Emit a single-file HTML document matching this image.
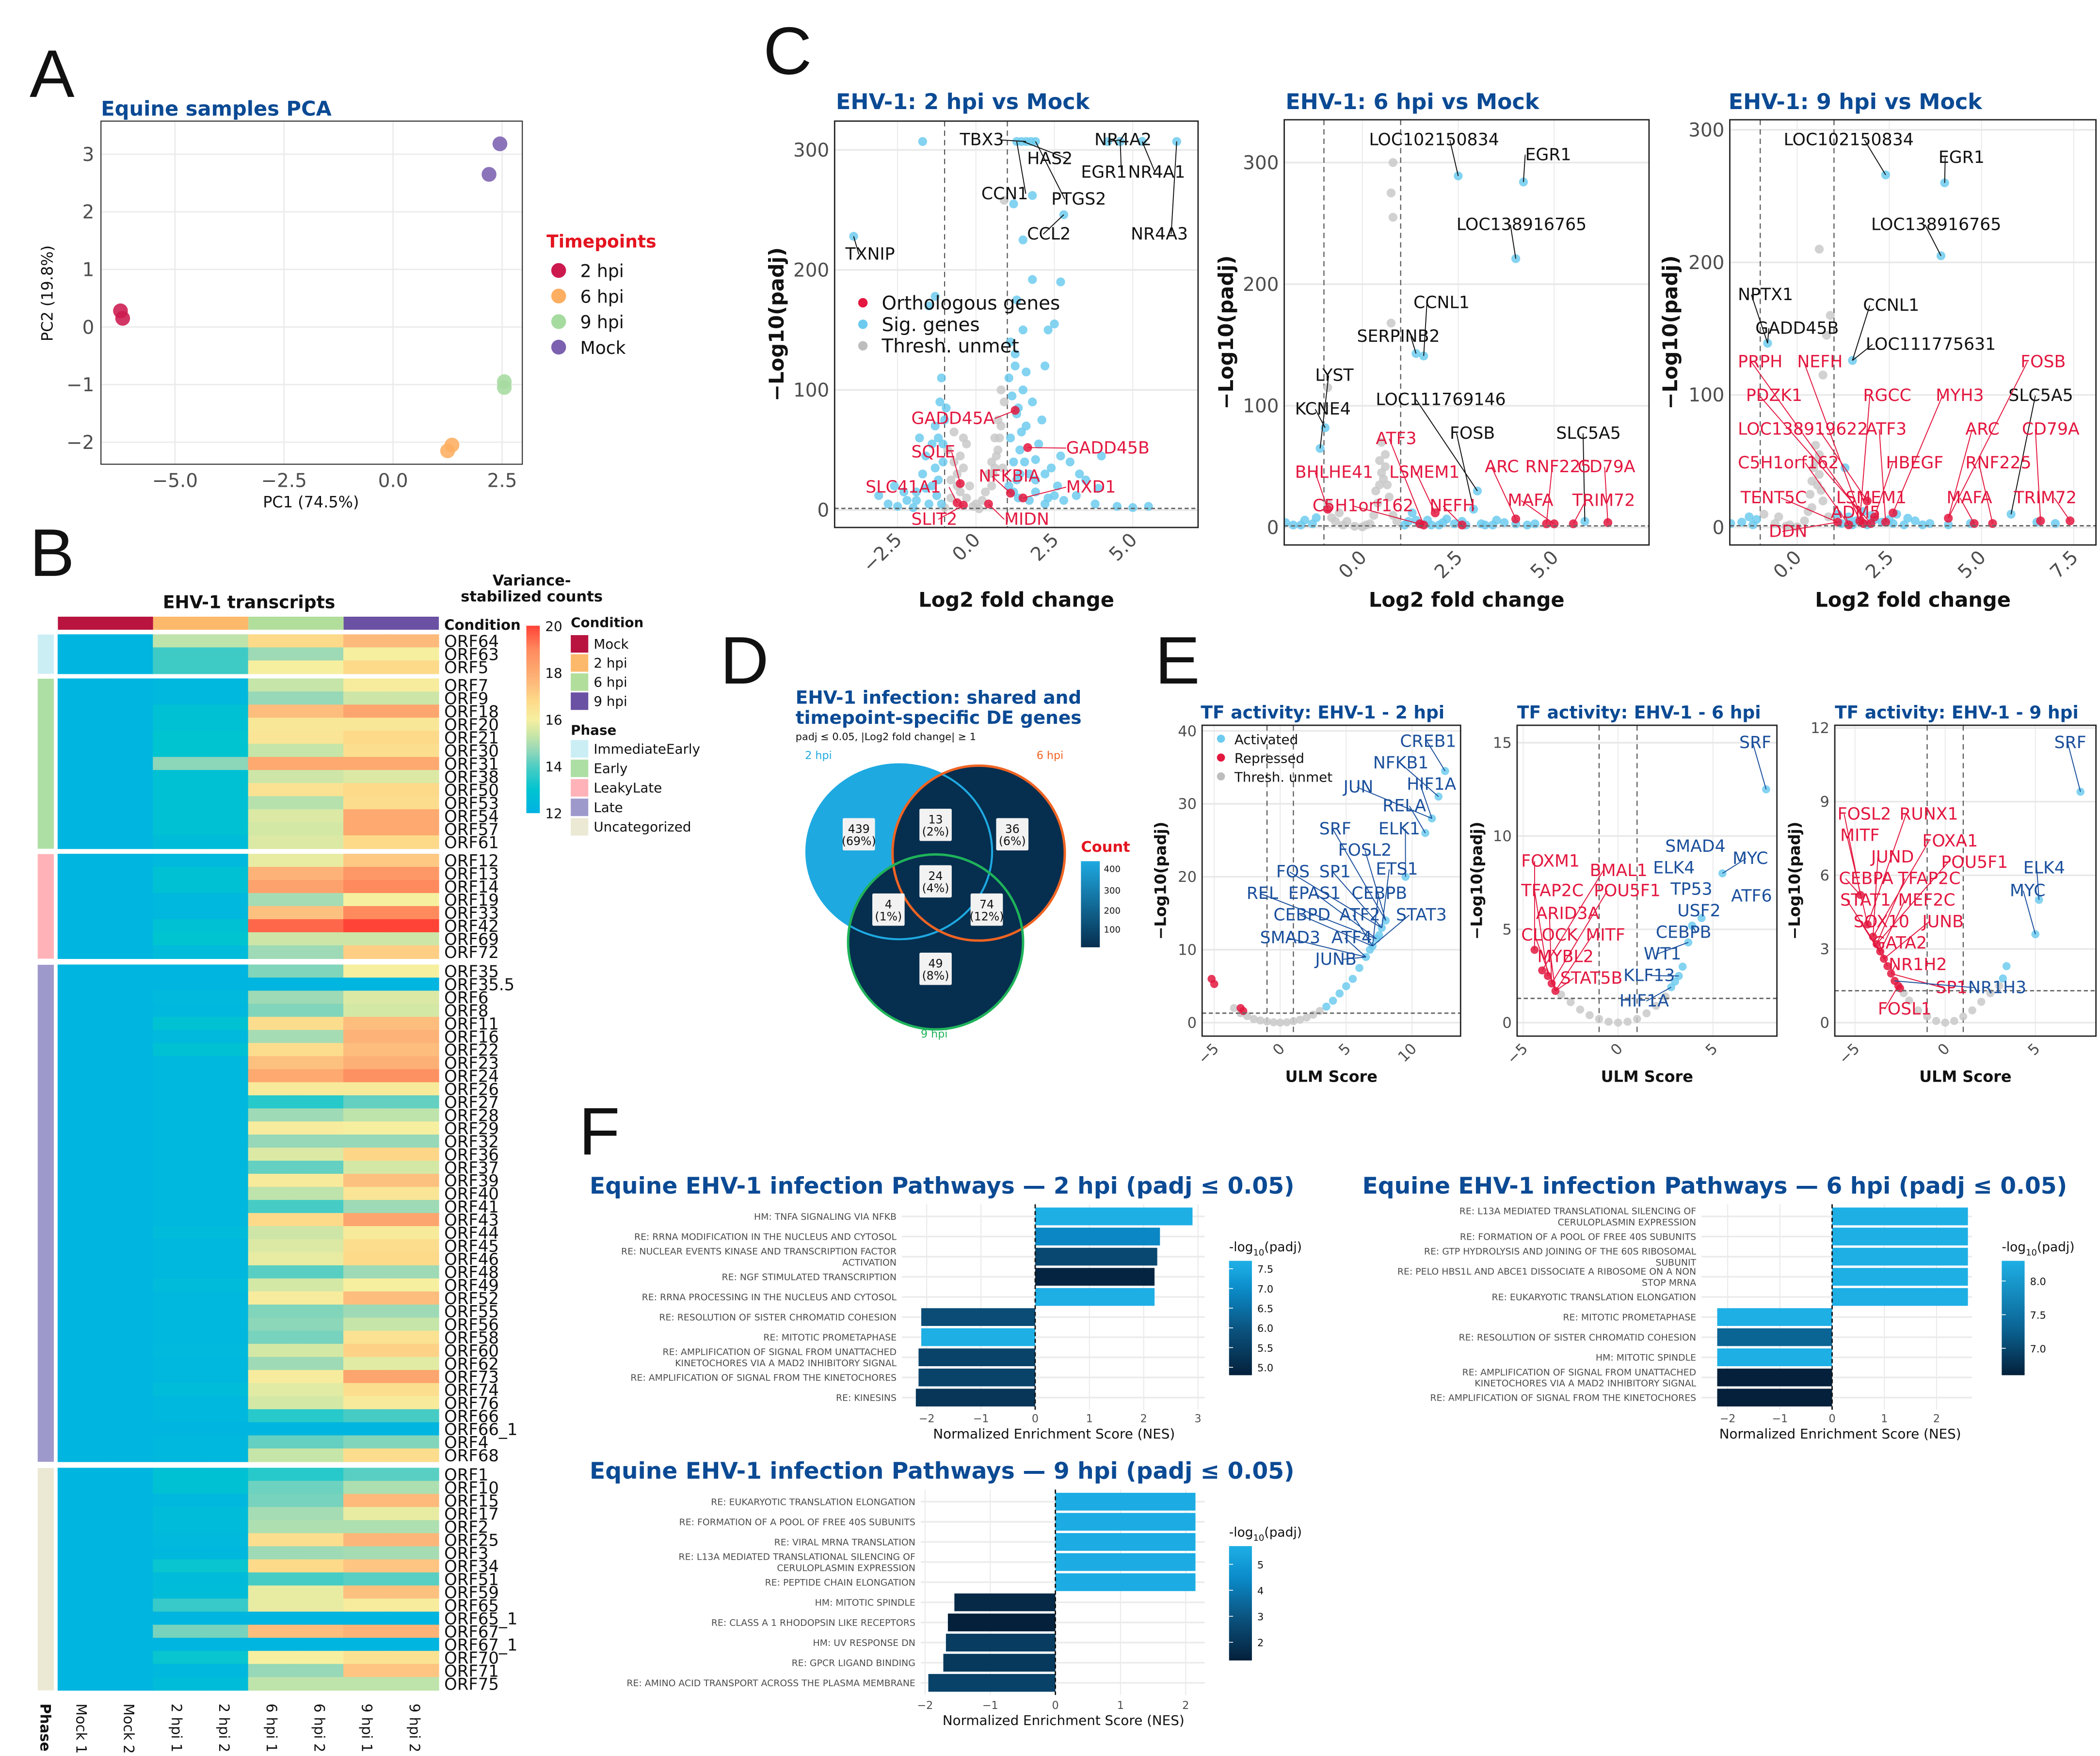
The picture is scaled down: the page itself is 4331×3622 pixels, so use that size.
<!DOCTYPE html>
<html><head><meta charset="utf-8"><title>EHV-1 figure</title>
<style>
html,body{margin:0;padding:0;background:#fff;}
svg{display:block;font-family:"DejaVu Sans","Liberation Sans",sans-serif;}
</style></head>
<body>
<svg id="fig" width="4331" height="3622" viewBox="0 0 1560 1305" preserveAspectRatio="none" xmlns="http://www.w3.org/2000/svg">
<rect x="0" y="0" width="1560" height="1305" fill="#fff"/>
<text x="22" y="72" font-size="50" fill="#111" font-family="Liberation Sans, sans-serif">A</text>
<text x="22" y="428" font-size="50" fill="#111" font-family="Liberation Sans, sans-serif">B</text>
<text x="567" y="55" font-size="50" fill="#111" font-family="Liberation Sans, sans-serif">C</text>
<text x="535" y="508" font-size="50" fill="#111" font-family="Liberation Sans, sans-serif">D</text>
<text x="858" y="508" font-size="50" fill="#111" font-family="Liberation Sans, sans-serif">E</text>
<text x="430" y="858" font-size="50" fill="#111" font-family="Liberation Sans, sans-serif">F</text>
</svg>
<script>
// ---------------- DATA ----------------
const pcaX = [-6.2,-6.25,1.25,1.35,2.55,2.55,2.2,2.45];
const pcaY = [0.15,0.28,-2.15,-2.05,-1.05,-0.95,2.65,3.18];
const pcaGroup = ['2 hpi','2 hpi','6 hpi','6 hpi','9 hpi','9 hpi','Mock','Mock'];
const pcaXTicks = [-5.0,-2.5,0.0,2.5];
const pcaYTicks = [3,2,1,0,-1,-2];

const heatNames = ['ORF64','ORF63','ORF5','ORF7','ORF9','ORF18','ORF20','ORF21','ORF30','ORF31','ORF38','ORF50','ORF53','ORF54','ORF57','ORF61','ORF12','ORF13','ORF14','ORF19','ORF33','ORF42','ORF69','ORF72','ORF35','ORF35.5','ORF6','ORF8','ORF11','ORF16','ORF22','ORF23','ORF24','ORF26','ORF27','ORF28','ORF29','ORF32','ORF36','ORF37','ORF39','ORF40','ORF41','ORF43','ORF44','ORF45','ORF46','ORF48','ORF49','ORF52','ORF55','ORF56','ORF58','ORF60','ORF62','ORF73','ORF74','ORF76','ORF66','ORF66_1','ORF4','ORF68','ORF1','ORF10','ORF15','ORF17','ORF2','ORF25','ORF3','ORF34','ORF51','ORF59','ORF65','ORF65_1','ORF67','ORF67_1','ORF70','ORF71','ORF75'];
const heatPhase = [0,0,0,1,1,1,1,1,1,1,1,1,1,1,1,1,2,2,2,2,2,2,2,2,3,3,3,3,3,3,3,3,3,3,3,3,3,3,3,3,3,3,3,3,3,3,3,3,3,3,3,3,3,3,3,3,3,3,3,3,3,3,4,4,4,4,4,4,4,4,4,4,4,4,4,4,4,4,4];
const heatMock = heatNames.map(()=>12.2);
const heat2h = [15.2,13.8,13.8,12.3,12.3,12.8,12.8,13.0,13.0,14.6,12.8,12.8,12.8,12.8,12.8,12.6,12.4,12.8,12.8,12.3,12.3,12.8,13.0,12.5,12.2,12.2,12.4,12.3,12.9,12.4,12.8,12.3,12.3,12.3,12.3,12.3,12.3,12.3,12.3,12.3,12.3,12.3,12.3,12.3,12.5,12.3,12.3,12.3,12.5,12.3,12.3,12.3,12.3,12.4,12.3,12.3,12.6,12.3,12.3,12.2,12.3,12.3,12.8,12.8,12.3,12.6,12.5,12.4,12.3,13.1,12.5,12.6,13.7,12.2,14.4,12.2,13.1,12.3,12.6];
const heat6h = [16.8,14.8,16.0,15.3,14.7,17.5,16.3,16.4,15.3,18.1,15.4,16.5,15.1,15.6,15.5,15.6,15.8,17.8,18.3,14.9,17.4,19.5,15.4,14.8,14.5,12.2,14.8,14.5,16.7,14.9,16.7,17.4,18.1,16.2,13.5,14.8,16.1,14.7,15.6,14.2,16.2,15.2,13.9,16.8,15.4,15.6,15.8,14.1,15.5,16.1,14.5,14.6,14.4,15.5,14.8,16.1,15.7,15.5,13.5,12.2,14.2,15.3,13.5,14.3,14.4,14.9,15.0,16.6,14.8,16.8,13.9,15.8,15.8,12.2,17.5,12.2,16.0,14.7,15.2];
const heat9h = [17.6,16.0,16.8,16.1,15.4,18.2,16.3,16.8,16.6,18.1,15.6,16.8,16.7,18.1,18.1,16.8,17.2,18.6,19.0,16.0,19.0,20.0,15.4,17.1,16.0,12.2,15.6,15.5,17.5,17.8,17.5,17.9,18.8,16.2,14.2,15.2,16.0,14.7,16.9,15.5,17.4,16.4,14.8,18.2,16.2,16.7,16.8,14.8,16.0,17.5,14.8,15.3,16.5,17.0,15.7,18.2,16.6,16.2,13.9,12.2,14.5,16.7,14.1,15.0,17.6,15.8,15.0,17.7,14.9,17.3,14.1,17.4,16.1,12.2,17.8,12.2,16.5,17.3,15.2];
const heatColLabels = ['Mock 1','Mock 2','2 hpi 1','2 hpi 2','6 hpi 1','6 hpi 2','9 hpi 1','9 hpi 2'];
const heatTicks = [20,18,16,14,12];

// volcano C1
const c1Blue = [[-3.1,12],[-2.8,5],[-2.5,3],[-2.2,8],[-2,2],[-1.9,15],[-1.7,30],[-1.6,45],[-1.5,5],[-1.4,55],[-1.3,70],[-1.2,25],[-1.15,90],[-1.1,110],[-1.05,40],[1.05,20],[1.1,60],[1.15,95],[1.2,40],[1.25,130],[1.3,80],[1.35,10],[1.4,50],[1.5,100],[1.6,70],[1.7,30],[1.8,90],[1.9,15],[2,55],[2.1,75],[2.2,5],[2.4,35],[2.6,20],[2.8,8],[3,40],[3.2,12],[3.5,25],[3.8,5],[4,45],[4.5,3],[5,2],[5.5,3],[1.3,175],[1.8,192],[2.7,190],[2.5,155],[1.5,150],[-1.3,178],[-1.5,170],[1.2,255],[1.5,225],[-1.7,307],[1.3,307],[1.45,307],[1.6,307],[1.75,307],[1.9,307],[2.8,246],[1.8,262],[-3.9,228],[4.2,307],[4.6,307],[5.3,307],[6.4,307],[2.3,150],[-2.6,20],[-1.8,60],[1.1,140],[2.2,120],[1.6,115],[3.9,18],[-0.95,85],[1.4,30],[1.9,42],[2.5,12],[-1.25,12],[-1.6,18],[-1.1,5],[-1.3,35],[-1.2,60],[-1.4,20],[1.2,15],[1.3,25],[1.45,65],[1.55,40],[1.7,8],[1.9,25],[2.2,30],[2.3,10],[2.7,45],[3.3,30],[-2.3,15],[-1.9,8],[1.05,110],[1.35,85],[1.25,120],[-1.05,55],[-1.0,75]];
const c1Grey = [[-1,2],[-0.8,10],[-0.6,30],[-0.5,45],[-0.4,60],[-0.3,55],[-0.2,20],[0,5],[0.1,1],[0.3,15],[0.5,40],[0.6,60],[0.7,75],[0.8,100],[0.9,90],[0.5,20],[-0.7,65],[-0.9,50],[0.2,8],[-0.1,3],[0.4,30],[0.9,258],[0.8,70],[-0.5,15],[0.6,35],[0.7,50],[-0.3,10],[-0.4,35],[-0.6,20],[0.55,30],[0.65,45],[0.75,60],[0.85,35],[-0.7,40],[-0.8,25]];
const c1Red = [[1.25,83],[1.65,52],[-0.5,22],[1.1,14],[1.5,10],[-0.4,4],[0.4,5],[-0.6,6]];
// volcano C2
const c2Blue = [[-1.1,65],[-0.97,82],[1.4,143],[1.6,141],[2.5,289],[4.2,284],[4,221],[3.0,30],[2.9,15],[1.2,5],[1.5,3],[1.8,2],[2.1,4],[2.4,3],[2.7,2],[3.1,3],[3.4,2],[3.7,4],[4.3,2],[5.8,5],[-1.3,3],[-1.6,2],[-2.0,4],[-1.2,8],[1.3,12],[1.7,6],[2.2,7],[3.5,6],[4.5,3],[-1.5,6],[1.1,2],[1.4,6],[2.0,2],[2.6,5],[3.2,2],[4.0,3],[-1.8,2]];
const c2Grey = [[-0.9,20],[-0.7,5],[-0.5,2],[-0.2,1],[0,0.5],[0.2,3],[0.35,30],[0.45,55],[0.5,70],[0.6,50],[0.7,25],[0.8,10],[0.9,5],[0.4,20],[0.55,40],[-0.6,12],[-0.8,8],[0.8,255],[0.75,275],[0.8,300],[0.75,168],[-0.9,115],[0.3,10],[0.65,35],[0.5,45],[0.45,35],[0.6,60],[-0.4,5],[0.1,2]];
const c2Red = [[1.6,2],[2.6,2],[4.0,7],[4.8,3],[5.0,3],[5.5,3],[6.4,4],[1.9,12],[1.5,3],[-0.9,15]];
// volcano C3
const c3Blue = [[2.4,266],[4.0,260],[3.9,205],[-0.8,139],[1.5,126],[1.3,45],[-1.5,4],[-1.2,2],[1.2,3],[1.6,5],[1.9,2],[2.3,4],[2.6,3],[2.9,2],[3.2,5],[3.6,3],[4.1,2],[4.7,3],[5.8,10],[6.5,4],[7.0,3],[-1.8,3],[1.4,8],[2.1,6],[3.0,7],[2.7,10],[1.8,12],[-1.1,6],[1.1,10],[1.5,2],[2.0,9],[2.5,6],[3.4,2],[-1.3,8]];
const c3Grey = [[-0.9,10],[-0.6,3],[-0.3,1],[0,0.5],[0.2,5],[0.35,25],[0.45,45],[0.5,62],[0.6,40],[0.7,20],[0.85,8],[0.4,15],[0.55,32],[-0.5,8],[0.7,115],[0.8,145],[0.6,210],[0.9,160],[0.3,12],[0.65,28],[0.5,50],[0.4,35],[0.6,55],[-0.2,2]];
const c3Red = [[1.1,4],[1.8,3],[2.4,4],[2.6,11],[2.1,8],[1.4,2],[1.7,5],[1.9,20],[4.1,7],[4.8,3],[5.3,3],[6.6,5],[7.4,5],[2.0,3]];

// TF activity E
const e1Grey = [[-3.5,2],[-3,1.3],[-2.5,0.9],[-2,0.5],[-1.5,0.3],[-1,0.15],[-0.5,0.05],[0,0],[0.5,0.05],[1,0.2],[1.5,0.4],[2,0.7],[2.5,1.1],[3,1.6]];
const e1Blue = [[3.5,2.2],[4,3],[4.5,4],[5,5],[5.5,6],[6,7.5],[6.5,9],[7,10.5],[7.3,11.5],[7.7,13],[8,14],[9.5,20],[11,26],[11.5,28],[12,31],[12.5,34.5],[6.8,10],[7.5,12]];
const e1Red = [[-5.2,6],[-5,5.3],[-3,2],[-2.8,1.6]];
const e2Grey = [[-3,1.5],[-2.5,1.1],[-2,0.7],[-1.5,0.4],[-1,0.2],[-0.5,0.05],[0,0],[0.5,0.05],[1,0.2],[1.5,0.5],[2,0.9],[2.5,1.4]];
const e2Blue = [[2.8,1.9],[3.2,2.5],[3.4,3],[3.7,4.3],[3.9,5.2],[4.4,5.6],[5.5,8],[7.8,12.5],[3,2.2]];
const e2Red = [[-4.4,3.9],[-4,2.8],[-3.7,2.5],[-3.5,2.1],[-3.3,1.7]];
const e3Grey = [[-2.3,1.2],[-2,0.9],[-1.5,0.5],[-1,0.25],[-0.5,0.07],[0,0],[0.5,0.07],[1,0.25],[1.5,0.5],[2,0.85],[2.5,1.2],[3,1.5]];
const e3Blue = [[3.2,1.8],[3.4,2.3],[5,3.6],[5.2,5],[7.5,9.4]];
const e3Red = [[-4.7,5.2],[-4.3,4],[-4,3.5],[-3.8,3.2],[-3.6,2.9],[-3.4,2.6],[-3.2,2.3],[-3,2],[-2.8,1.7],[-2.6,1.5],[-2.5,1.4]];

// Pathways F
const f2Labels = [["HM: TNFA SIGNALING VIA NFKB"],["RE: RRNA MODIFICATION IN THE NUCLEUS AND CYTOSOL"],["RE: NUCLEAR EVENTS KINASE AND TRANSCRIPTION FACTOR","ACTIVATION"],["RE: NGF STIMULATED TRANSCRIPTION"],["RE: RRNA PROCESSING IN THE NUCLEUS AND CYTOSOL"],["RE: RESOLUTION OF SISTER CHROMATID COHESION"],["RE: MITOTIC PROMETAPHASE"],["RE: AMPLIFICATION OF SIGNAL FROM UNATTACHED","KINETOCHORES VIA A MAD2 INHIBITORY SIGNAL"],["RE: AMPLIFICATION OF SIGNAL FROM THE KINETOCHORES"],["RE: KINESINS"]];
const f2NES = [2.9,2.3,2.25,2.2,2.2,-2.1,-2.1,-2.15,-2.15,-2.2];
const f2Padj = [7.6,6.9,5.7,4.9,7.6,5.8,7.6,5.6,5.6,5.3];
const f6Labels = [["RE: L13A MEDIATED TRANSLATIONAL SILENCING OF","CERULOPLASMIN EXPRESSION"],["RE: FORMATION OF A POOL OF FREE 40S SUBUNITS"],["RE: GTP HYDROLYSIS AND JOINING OF THE 60S RIBOSOMAL","SUBUNIT"],["RE: PELO HBS1L AND ABCE1 DISSOCIATE A RIBOSOME ON A NON","STOP MRNA"],["RE: EUKARYOTIC TRANSLATION ELONGATION"],["RE: MITOTIC PROMETAPHASE"],["RE: RESOLUTION OF SISTER CHROMATID COHESION"],["HM: MITOTIC SPINDLE"],["RE: AMPLIFICATION OF SIGNAL FROM UNATTACHED","KINETOCHORES VIA A MAD2 INHIBITORY SIGNAL"],["RE: AMPLIFICATION OF SIGNAL FROM THE KINETOCHORES"]];
const f6NES = [2.6,2.6,2.6,2.6,2.6,-2.2,-2.2,-2.2,-2.2,-2.2];
const f6Padj = [8.3,8.3,8.3,8.3,8.3,8.3,7.3,8.3,6.6,6.6];
const f9Labels = [["RE: EUKARYOTIC TRANSLATION ELONGATION"],["RE: FORMATION OF A POOL OF FREE 40S SUBUNITS"],["RE: VIRAL MRNA TRANSLATION"],["RE: L13A MEDIATED TRANSLATIONAL SILENCING OF","CERULOPLASMIN EXPRESSION"],["RE: PEPTIDE CHAIN ELONGATION"],["HM: MITOTIC SPINDLE"],["RE: CLASS A 1 RHODOPSIN LIKE RECEPTORS"],["HM: UV RESPONSE DN"],["RE: GPCR LIGAND BINDING"],["RE: AMINO ACID TRANSPORT ACROSS THE PLASMA MEMBRANE"]];
const f9NES = [2.15,2.15,2.15,2.15,2.15,-1.55,-1.65,-1.68,-1.72,-1.95];
const f9Padj = [5.6,5.6,5.6,5.6,5.6,1.6,1.3,2.2,2.1,2.4];

// ---------------- HELPERS ----------------
const NS='http://www.w3.org/2000/svg';
const svg=document.getElementById('fig');
function mk(tag,attrs,parent){const e=document.createElementNS(NS,tag);for(const k in attrs)e.setAttribute(k,attrs[k]);(parent||svg).appendChild(e);return e;}
function tx(s,x,y,attrs,parent){const e=mk('text',Object.assign({x:x,y:y},attrs||{}),parent);e.textContent=s;return e;}
function hex(c){return [parseInt(c.slice(1,3),16),parseInt(c.slice(3,5),16),parseInt(c.slice(5,7),16)];}
function ramp(stops,v){
  if(v<=stops[0][0])return stops[0][1]; if(v>=stops[stops.length-1][0])return stops[stops.length-1][1];
  for(let i=0;i<stops.length-1;i++){const a=stops[i],b=stops[i+1];if(v>=a[0]&&v<=b[0]){const t=(v-a[0])/(b[0]-a[0]);const ca=hex(a[1]),cb=hex(b[1]);return 'rgb('+ca.map((q,j)=>Math.round(q+(cb[j]-q)*t)).join(',')+')';}}
}
const TITLE='#0b4a94', BLUE='#6dcbef', RED='#e3173f', GREY='#c9c9c9';

// ---------------- PANEL A: PCA ----------------
(function(){
  const g=mk('g',{});
  
  
  const X0=75,X1=388,Y0=90,Y1=345;
  const xs=v=>292+v*32.4, ys=v=>243-v*42.8;
  let t=tx('Equine samples PCA',75,86,{'font-size':15,'font-weight':'bold',fill:TITLE},g);
  
  
  mk('rect',{x:X0,y:Y0,width:X1-X0,height:Y1-Y0,fill:'#fff'},g);
  pcaXTicks.forEach(v=>{mk('line',{x1:xs(v),x2:xs(v),y1:Y0,y2:Y1,stroke:'#ebebeb','stroke-width':1},g);});
  pcaYTicks.forEach(v=>{mk('line',{x1:X0,x2:X1,y1:ys(v),y2:ys(v),stroke:'#ebebeb','stroke-width':1},g);});
  mk('rect',{x:X0,y:Y0,width:X1-X0,height:Y1-Y0,fill:'none',stroke:'#333','stroke-width':0.8},g);
  pcaXTicks.forEach(v=>{const l=tx(v.toFixed(1).replace('-','\u2212'),xs(v),362,{'font-size':14,fill:'#4d4d4d','text-anchor':'middle'},g);
    
    });
  pcaYTicks.forEach(v=>{const l=tx(String(v).replace('-','\u2212'),70,ys(v)+5,{'font-size':14,fill:'#4d4d4d','text-anchor':'end'},g);
    
    });
  t=tx('PC1 (74.5%)',231,377,{'font-size':11.5,fill:'#111','text-anchor':'middle'},g);
  
  
  t=tx('PC2 (19.8%)',0,0,{'font-size':11.5,fill:'#111','text-anchor':'middle',transform:'translate(39,218) rotate(-90)'},g);
  
  
  const gc={'2 hpi':'#cc1a4f','6 hpi':'#fdae61','9 hpi':'#a6dba0','Mock':'#7b61b0'};
  pcaX.forEach((v,i)=>{const c=mk('circle',{cx:xs(v),cy:ys(pcaY[i]),r:5.5,fill:gc[pcaGroup[i]],'fill-opacity':0.88},g);
    
    });
  t=tx('Timepoints',406,184,{'font-size':13,'font-weight':'bold',fill:'#e3141f'},g);
  
  
  ['2 hpi','6 hpi','9 hpi','Mock'].forEach((k,i)=>{const y=201+i*19;
    const c=mk('circle',{cx:415,cy:y,r:5.5,fill:gc[k]},g);
    
    
    const l=tx(k,431,y+5,{'font-size':13,fill:'#111'},g);
    
    });
})();

// ---------------- PANEL B: Heatmap ----------------
(function(){
  const g=mk('g',{});
  
  
  const stops=[[12,'#00b1e4'],[13,'#00c4d0'],[14,'#4ecdc4'],[14.7,'#96d8b8'],[15.3,'#c6e5a8'],[16,'#f6efa0'],[16.8,'#fdda8a'],[17.5,'#fdbd7d'],[18.3,'#fda26c'],[19,'#ff8a5e'],[20,'#ff4437']];
  const L=43,R=326,cw=(R-L)/8,rh=9.72;
  const phaseTop=[471.6,504.4,634.7,717,1091];
  const phaseCol=['#cbeef5','#addfa4','#ffb3b9','#9e99cb','#ebe8d4'];
  const condCol=['#b8143f','#fdb96b','#b2de9c','#6a51a3'];
  let t=tx('EHV-1 transcripts',185,452,{'font-size':13,'font-weight':'bold',fill:'#111','text-anchor':'middle'},g);
  
  
  condCol.forEach((c,i)=>{const r=mk('rect',{x:L+i*cw*2,y:458.3,width:cw*2,height:9.7,fill:c},g);
    
    });
  t=tx('Condition',330,468,{'font-size':10.5,'font-weight':'bold',fill:'#111'},g);
  
  
  let idx=[0,0,0,0,0];
  heatNames.forEach((n,i)=>{
    const p=heatPhase[i]; const y=phaseTop[p]+idx[p]*rh; idx[p]++;
    const vals=[heatMock[i],heatMock[i],heat2h[i],heat2h[i],heat6h[i],heat6h[i],heat9h[i],heat9h[i]];
    vals.forEach((v,j)=>{const r=mk('rect',{x:L+j*cw-0.2,y:y-0.2,width:cw+0.4,height:rh+0.4,fill:ramp(stops,v)},g);
      
      });
    const l=tx(n,330,y+rh-0.5,{'font-size':12.2,fill:'#111'},g);
    
    
  });
  phaseTop.forEach((y0,p)=>{const h=idx[p]*rh;const r=mk('rect',{x:28,y:y0,width:12,height:h,fill:phaseCol[p]},g);
    
    });
  heatColLabels.forEach((s,j)=>{const l=tx(s,0,0,{'font-size':10.5,fill:'#111',transform:'translate('+(L+j*cw+cw/2-4)+',1266) rotate(90)'},g);
    
    });
  t=tx('Phase',0,0,{'font-size':10.5,'font-weight':'bold',fill:'#111',transform:'translate(30,1266) rotate(90)'},g);
  
  
  t=tx('Variance-',395,435,{'font-size':11,'font-weight':'bold',fill:'#111','text-anchor':'middle'},g);
  
  
  t=tx('stabilized counts',395,447,{'font-size':11,'font-weight':'bold',fill:'#111','text-anchor':'middle'},g);
  
  
  const cy=v=>604-(v-12)*(139/8);
  for(let v=12;v<20;v+=0.1){mk('rect',{x:391,y:cy(v+0.1),width:10,height:139/80+0.3,fill:ramp(stops,v+0.05)},g);}
  heatTicks.forEach(v=>{const l=tx(String(v),405,cy(v)+4,{'font-size':10,fill:'#111'},g);
    
    });
  t=tx('Condition',424,466,{'font-size':10,'font-weight':'bold',fill:'#111'},g);
  
  
  ['Mock','2 hpi','6 hpi','9 hpi'].forEach((s,i)=>{const y=472+i*14.2;
    mk('rect',{x:424,y:y,width:13,height:13,fill:condCol[i]},g);
    const l=tx(s,441,y+10,{'font-size':10,fill:'#111'},g);
    
    });
  t=tx('Phase',424,546,{'font-size':10,'font-weight':'bold',fill:'#111'},g);
  
  
  ['ImmediateEarly','Early','LeakyLate','Late','Uncategorized'].forEach((s,i)=>{const y=550+i*14.5;
    mk('rect',{x:424,y:y,width:13,height:13,fill:phaseCol[i]},g);
    const l=tx(s,441,y+10,{'font-size':10,fill:'#111'},g);
    
    });
})();

// ---------------- VOLCANO / TF helper ----------------
function scatterPanel(cfg){
  const g=mk('g',{});
  
  
  const xs=v=>cfg.xz+v*cfg.kx, ys=v=>cfg.yz-v*cfg.ky;
  let t=tx(cfg.title,cfg.tx,cfg.ty,{'font-size':cfg.tsize,'font-weight':'bold',fill:TITLE},g);
  
  
  const clip='clip-'+cfg.name;
  const cp=mk('clipPath',{id:clip},g); mk('rect',{x:cfg.x0,y:cfg.y0,width:cfg.x1-cfg.x0,height:cfg.y1-cfg.y0},cp);
  cfg.gx.forEach(v=>mk('line',{x1:xs(v),x2:xs(v),y1:cfg.y0,y2:cfg.y1,stroke:'#ececec','stroke-width':0.8},g));
  cfg.gy.forEach(v=>mk('line',{x1:cfg.x0,x2:cfg.x1,y1:ys(v),y2:ys(v),stroke:'#e8e8e8','stroke-width':1.2},g));
  [-cfg.vl,cfg.vl].forEach(v=>mk('line',{x1:xs(v),x2:xs(v),y1:cfg.y0,y2:cfg.y1,stroke:'#555','stroke-width':0.8,'stroke-dasharray':'4,3'},g));
  const pg=mk('g',{'clip-path':'url(#'+clip+')'},g);
  const drawPts=(arr,col,nm)=>arr.forEach(p=>{const c=mk('circle',{cx:xs(p[0]),cy:ys(p[1]),r:cfg.r,fill:col,'fill-opacity':0.85},pg);
    
    });
  drawPts(cfg.grey,GREY,'unmet-point');
  drawPts(cfg.blue,cfg.blueCol||BLUE,'significant-point');
  drawPts(cfg.red,RED,'highlight-point');
  mk('line',{x1:cfg.x0,x2:cfg.x1,y1:ys(cfg.hl),y2:ys(cfg.hl),stroke:'#666','stroke-width':1,'stroke-dasharray':'3,2'},g);
  mk('rect',{x:cfg.x0,y:cfg.y0,width:cfg.x1-cfg.x0,height:cfg.y1-cfg.y0,fill:'none',stroke:'#222','stroke-width':1},g);
  cfg.xt.forEach(v=>{const l=tx((cfg.xdec?v.toFixed(1):String(v)).replace('-','\u2212'),0,0,{'font-size':cfg.fs,fill:'#4d4d4d','text-anchor':'end',transform:'translate('+(xs(v)+4)+','+(cfg.y1+10)+') rotate(-45)'},g);
    
    });
  cfg.yt.forEach(v=>{const l=tx(String(v),cfg.x0-4,ys(v)+cfg.fs*0.35,{'font-size':cfg.fs,fill:'#4d4d4d','text-anchor':'end'},g);
    
    });
  t=tx(cfg.xlab,(cfg.x0+cfg.x1)/2,cfg.xly,{'font-size':cfg.lfs,'font-weight':'bold',fill:'#111','text-anchor':'middle'},g);
  
  
  t=tx('\u2212Log10(padj)',0,0,{'font-size':cfg.lfs,'font-weight':'bold',fill:'#111','text-anchor':'middle',transform:'translate('+cfg.ylx+','+((cfg.y0+cfg.y1)/2)+') rotate(-90)'},g);
  
  
  (cfg.labels||[]).forEach(L=>{
    if(L[3]!==undefined){mk('line',{x1:L[1]+L[5],x2:xs(L[3]),y1:L[2]-4,y2:ys(L[4]),stroke:L[6]||'#111','stroke-width':0.7},g);}
    const l=tx(L[0],L[1],L[2],{'font-size':cfg.labfs,fill:L[6]||'#111'},g);
    
    
  });
  return g;
}
const K='#111', R2=RED, NB='#1a4f9c';
scatterPanel({name:'volcano-2hpi',title:'EHV-1: 2 hpi vs Mock',tx:621,ty:81,tsize:16,x0:620,x1:890,y0:90,y1:392,xz:725,kx:23.3,yz:379,ky:0.892,
  gx:[-2.5,0,2.5,5],gy:[0,100,200,300],vl:1,hl:1.3,r:3.3,blue:c1Blue,grey:c1Grey,red:c1Red,xt:[-2.5,0,2.5,5],xdec:true,yt:[0,100,200,300],fs:14,
  xlab:'Log2 fold change',xly:451,lfs:15,ylx:582,labfs:12.5,
  labels:[['TBX3',713,108,1.6,307,30,K],['HAS2',763,122,1.5,307,30,K],['CCN1',729,148,1.3,307,33,K],['PTGS2',781,152,1.9,307,10,K],['CCL2',763,178,2.8,246,12,K],['NR4A2',813,108,4.2,307,20,K],['EGR1',803,132,4.6,307,30,K],['NR4A1',838,132,5.3,307,20,K],['NR4A3',840,178,6.4,307,30,K],['TXNIP',628,193,-3.9,228,10,K],
  ['GADD45A',677,315,1.25,83,62,R2],['GADD45B',792,337,1.65,52,0,R2],['SQLE',677,340,-0.5,22,30,R2],['NFKBIA',727,358,1.1,14,10,R2],['SLC41A1',643,366,-0.6,6,62,R2],['MXD1',792,366,1.5,10,0,R2],['SLIT2',677,390,-0.4,4,20,R2],['MIDN',746,390,0.4,5,0,R2]]});
scatterPanel({name:'volcano-6hpi',title:'EHV-1: 6 hpi vs Mock',tx:955,ty:81,tsize:16,x0:954,x1:1225,y0:89,y1:405,xz:1012,kx:28.5,yz:392,ky:0.904,
  gx:[0,2.5,5],gy:[0,100,200,300],vl:1,hl:1.3,r:3.3,blue:c2Blue,grey:c2Grey,red:c2Red,xt:[0,2.5,5],xdec:true,yt:[0,100,200,300],fs:14,
  xlab:'Log2 fold change',xly:451,lfs:15,ylx:916,labfs:12.5,
  labels:[['LOC102150834',1017,108,2.5,289,60,K],['EGR1',1133,119,4.2,284,0,K],['LOC138916765',1082,171,4.0,221,40,K],['CCNL1',1050,229,1.6,141,10,K],['SERPINB2',1008,254,1.4,143,40,K],['LYST',977,283,-1.1,65,10,K],['KCNE4',962,308,-0.97,82,15,K],['LOC111769146',1022,301,3.0,30,30,K],['FOSB',1077,326,2.9,15,5,K],['SLC5A5',1156,326,5.8,5,20,K],
  ['ATF3',1022,330,1.6,2,10,R2],['BHLHE41',962,355,-0.9,15,15,R2],['LSMEM1',1032,355,1.9,12,20,R2],['C5H1orf162',975,380,1.6,2,30,R2],['NEFH',1062,380,2.6,2,10,R2],['ARC',1103,351,4.0,7,5,R2],['RNF225',1133,351,4.8,3,20,R2],['CD79A',1172,351,6.4,4,20,R2],['MAFA',1120,376,5.0,3,10,R2],['TRIM72',1168,376,5.5,3,10,R2]]});
scatterPanel({name:'volcano-9hpi',title:'EHV-1: 9 hpi vs Mock',tx:1284,ty:81,tsize:16,x0:1285,x1:1557,y0:89,y1:405,xz:1335,kx:27.4,yz:392,ky:0.985,
  gx:[0,2.5,5,7.5],gy:[0,100,200,300],vl:1,hl:1.3,r:3.3,blue:c3Blue,grey:c3Grey,red:c3Red,xt:[0,2.5,5,7.5],xdec:true,yt:[0,100,200,300],fs:14,
  xlab:'Log2 fold change',xly:451,lfs:15,ylx:1246,labfs:12.5,
  labels:[['LOC102150834',1325,108,2.4,266,60,K],['EGR1',1440,121,4.0,260,5,K],['LOC138916765',1390,171,3.9,205,40,K],['NPTX1',1291,223,-0.8,139,10,K],['GADD45B',1304,248,-0.8,139,10,K],['CCNL1',1384,231,1.5,126,5,K],['LOC111775631',1386,260,1.5,126,5,K],['SLC5A5',1492,298,5.8,10,20,K],
  ['PRPH',1291,273,1.9,3,10,R2],['NEFH',1335,273,1.8,3,5,R2],['FOSB',1501,273,4.1,7,5,R2],['PDZK1',1297,298,2.0,3,10,R2],['RGCC',1384,298,1.7,5,5,R2],['MYH3',1438,298,2.6,11,5,R2],['LOC138919622',1291,323,1.9,20,60,R2],['ATF3',1386,323,2.4,4,10,R2],['ARC',1460,323,4.1,7,5,R2],['CD79A',1502,323,6.6,5,10,R2],['C5H1orf162',1291,348,1.4,2,50,R2],['HBEGF',1401,348,2.1,8,5,R2],['RNF225',1460,348,5.3,3,10,R2],['TENT5C',1293,374,1.1,4,30,R2],['LSMEM1',1364,374,1.7,5,10,R2],['MAFA',1446,374,4.8,3,10,R2],['TRIM72',1496,374,7.4,5,30,R2],['ADM5',1360,385,1.4,2,10,R2],['DDN',1314,399,1.1,4,10,R2]]});
(function(){const items=[['Orthologous genes',RED],['Sig. genes',BLUE],['Thresh. unmet','#bdbdbd']];
  items.forEach((it,i)=>{const y=225+i*16;
    const c=mk('circle',{cx:641,cy:y,r:3.5,fill:it[1]});
    
    
    const l=tx(it[0],655,y+5,{'font-size':14,fill:'#111'});
    
    });})();

// TF activity
scatterPanel({name:'tf-activity-2hpi',title:'TF activity: EHV-1 - 2 hpi',tx:892,ty:534,tsize:13,x0:893,x1:1085,y0:539,y1:770,xz:951,kx:9.8,yz:760,ky:5.42,
  gx:[-5,0,5,10],gy:[0,10,20,30,40],vl:1,hl:1.3,r:3,blue:e1Blue,grey:e1Grey,red:e1Red,xt:[-5,0,5,10],yt:[0,10,20,30,40],fs:11,
  xlab:'ULM Score',xly:804,lfs:11.5,ylx:866,labfs:12.5,
  labels:[['CREB1',1040,555,12.5,34.5,20,NB],['NFKB1',1020,571,12,31,20,NB],['JUN',998,589,11.5,28,10,NB],['HIF1A',1045,587,11.5,28,10,NB],['RELA',1027,603,11,26,20,NB],['SRF',980,620,8,14,10,NB],['ELK1',1024,620,9.5,20,20,NB],['FOSL2',994,636,8,14,20,NB],['FOS',948,652,7.7,13,10,NB],['SP1',980,652,7.7,13,10,NB],['ETS1',1022,650,7.7,13,10,NB],['REL',926,668,7.3,11.5,10,NB],['EPAS1',957,668,7.3,11.5,20,NB],['CEBPB',1004,668,7,10.5,20,NB],['CEBPD',946,684,7,10.5,20,NB],['ATF2',995,684,7,10.5,10,NB],['STAT3',1037,684,7,10.5,10,NB],['SMAD3',936,701,6.5,9,20,NB],['ATF4',989,701,6.5,9,10,NB],['JUNB',977,717,6.5,9,20,NB]]});
scatterPanel({name:'tf-activity-6hpi',title:'TF activity: EHV-1 - 6 hpi',tx:1127,ty:534,tsize:13,x0:1127,x1:1320,y0:539,y1:770,xz:1202,kx:14.1,yz:760,ky:13.87,
  gx:[-5,0,5],gy:[0,5,10,15],vl:1,hl:1.3,r:3,blue:e2Blue,grey:e2Grey,red:e2Red,xt:[-5,0,5],yt:[0,5,10,15],fs:11,
  xlab:'ULM Score',xly:804,lfs:11.5,ylx:1101,labfs:12.5,
  labels:[['SRF',1292,556,7.8,12.5,10,NB],['SMAD4',1237,633],['MYC',1287,642,5.5,8,10,NB],['ELK4',1228,649],['TP53',1241,665],['ATF6',1286,670],['USF2',1246,681],['CEBPB',1230,697,3.9,5.2,30,NB],['WT1',1221,713,3.7,4.3,10,NB],['KLF13',1206,729,3.2,2.5,20,NB],['HIF1A',1203,748,2.8,1.9,20,NB],
  ['FOXM1',1130,644,-4.4,3.9,10,R2],['BMAL1',1181,651,-4,2.8,10,R2],['TFAP2C',1130,666,-3.7,2.5,10,R2],['POU5F1',1184,666,-3.5,2.1,10,R2],['ARID3A',1141,683,-3.5,2.1,10,R2],['CLOCK',1130,699,-3.3,1.7,10,R2],['MITF',1178,699,-3.3,1.7,5,R2],['MYBL2',1142,715,-3.3,1.7,10,R2],['STAT5B',1159,731,-3.3,1.7,10,R2]].map(a=>a.length<4?a.concat([undefined,undefined,undefined,NB]):a)});
scatterPanel({name:'tf-activity-9hpi',title:'TF activity: EHV-1 - 9 hpi',tx:1363,ty:534,tsize:13,x0:1363,x1:1557,y0:539,y1:770,xz:1445,kx:13.4,yz:760,ky:18.25,
  gx:[-5,0,5],gy:[0,3,6,9,12],vl:1,hl:1.3,r:3,blue:e3Blue,grey:e3Grey,red:e3Red,xt:[-5,0,5],yt:[0,3,6,9,12],fs:11,
  xlab:'ULM Score',xly:804,lfs:11.5,ylx:1337,labfs:12.5,
  labels:[['SRF',1526,556,7.5,9.4,10,NB],['ELK4',1503,649,5.2,5,10,NB],['MYC',1493,666,5,3.6,10,NB],
  ['FOSL2',1365,609,-4.7,5.2,5,R2],['RUNX1',1411,609,-4.3,4,5,R2],['MITF',1367,625,-4.3,4,5,R2],['FOXA1',1428,629,-4,3.5,5,R2],['JUND',1390,641,-4,3.5,5,R2],['POU5F1',1442,645,-3.8,3.2,5,R2],['CEBPA',1366,657,-4.7,5.2,5,R2],['TFAP2C',1410,657,-3.8,3.2,5,R2],['STAT1',1367,673,-3.6,2.9,5,R2],['MEF2C',1410,673,-3.6,2.9,5,R2],['SOX10',1377,689,-3.4,2.6,5,R2],['JUNB',1428,689,-3.4,2.6,5,R2],['GATA2',1391,705,-3.2,2.3,5,R2],['NR1H2',1403,721,-3,2,5,R2],['SP1',1438,738,-3,2,5,R2],['NR1H3',1462,738,-2.8,1.7,5,NB],['FOSL1',1395,754,-2.6,1.5,5,R2]]});
(function(){const items=[['Activated',BLUE],['Repressed',RED],['Thresh. unmet','#bdbdbd']];
  items.forEach((it,i)=>{const y=549+i*14;
    const c=mk('circle',{cx:907,cy:y,r:3,fill:it[1]});
    
    
    const l=tx(it[0],917,y+4,{'font-size':10,fill:'#111'});
    
    });})();

// ---------------- PANEL D: Venn ----------------
const vennCounts = ['439','13','36','24','4','74','49'];
const vennPct = ['(69%)','(2%)','(6%)','(4%)','(1%)','(12%)','(8%)'];
(function(){
  const g=mk('g',{});
  
  
  let t=tx('EHV-1 infection: shared and',591,523,{'font-size':13.5,'font-weight':'bold',fill:TITLE},g);
  
  
  t=tx('timepoint-specific DE genes',591,538,{'font-size':13.5,'font-weight':'bold',fill:TITLE},g);
  
  
  t=tx('padj \u2264 0.05, |Log2 fold change| \u2265 1',591,550,{'font-size':7.5,fill:'#111'},g);
  
  
  t=tx('2 hpi',598,564,{'font-size':8,fill:'#1ea9e1'},g);
  
  
  t=tx('6 hpi',770,564,{'font-size':8,fill:'#f06423'},g);
  
  
  t=tx('9 hpi',684,771,{'font-size':8,fill:'#1fb35a'},g);
  
  
  const c2={cx:668,cy:633,rx:69,ry:65}, c6={cx:727,cy:634,rx:64,ry:65}, c9={cx:695,cy:700,rx:65,ry:65};
  let e=mk('ellipse',Object.assign({fill:'#1ea9e1'},c2),g);
  
  
  e=mk('ellipse',Object.assign({fill:'#062e4f'},c6),g);
  
  
  e=mk('ellipse',Object.assign({fill:'#062e4f'},c9),g);
  
  
  mk('ellipse',Object.assign({fill:'none',stroke:'#1ea9e1','stroke-width':1.5},c2),g);
  mk('ellipse',Object.assign({fill:'none',stroke:'#f06423','stroke-width':1.8},c6),g);
  mk('ellipse',Object.assign({fill:'none',stroke:'#1fb35a','stroke-width':1.8},c9),g);
  const pos=[[638,620],[695,613],[752,620],[695,655],[660,676],[733,676],[695,720]];
  vennCounts.forEach((c,i)=>{const [x,y]=pos[i];
    mk('rect',{x:x-12,y:y-12,width:24,height:24,fill:'#f2f2f2',rx:1},g);
    const l=tx(c,x,y-1,{'font-size':8.5,fill:'#111','text-anchor':'middle'},g);
    
    
    const p=tx(vennPct[i],x,y+8,{'font-size':8.5,fill:'#111','text-anchor':'middle'},g);
    
    });
  t=tx('Count',803,633,{'font-size':11,'font-weight':'bold',fill:'#e3141f'},g);
  
  
  const defs=mk('defs',{},g);
  const lg=mk('linearGradient',{id:'cntGrad',x1:0,y1:1,x2:0,y2:0},defs);
  mk('stop',{offset:0,'stop-color':'#062e4f'},lg); mk('stop',{offset:1,'stop-color':'#1ea9e1'},lg);
  mk('rect',{x:803,y:640,width:14,height:64,fill:'url(#cntGrad)'},g);
  [['400',645],['300',661],['200',676],['100',690]].forEach(a=>{const l=tx(a[0],820,a[1]+3,{'font-size':6.5,fill:'#111'},g);
    
    });
})();

// ---------------- PANEL F: pathways ----------------
function pathway(cfg){
  const g=mk('g',{});
  
  
  const xs=v=>cfg.xz+v*cfg.kx;
  let t=tx(cfg.title,cfg.tx,cfg.ty,{'font-size':17,'font-weight':'bold',fill:TITLE},g);
  
  
  const top=cfg.r0-9, bot=cfg.r0+9*cfg.step+9;
  cfg.ticks.forEach(v=>mk('line',{x1:xs(v),x2:xs(v),y1:top,y2:bot,stroke:'#ebebeb','stroke-width':0.8},g));
  cfg.labels.forEach((L,i)=>{const y=cfg.r0+i*cfg.step;
    mk('line',{x1:cfg.lx+4,x2:cfg.gx1,y1:y,y2:y,stroke:'#ebebeb','stroke-width':1.2},g);
    const v=cfg.nes[i];
    const r=mk('rect',{x:Math.min(xs(0),xs(v)),y:y-6.6,width:Math.abs(xs(v)-xs(0)),height:13.2,fill:ramp(cfg.cs,cfg.padj[i])},g);
    
    
    L.forEach((s,k)=>{const l=tx(s,cfg.lx,y+2.5+(k-(L.length-1)/2)*8.2,{'font-size':6.8,fill:'#4d4d4d','text-anchor':'end'},g);
      
      });
  });
  mk('line',{x1:xs(0),x2:xs(0),y1:top,y2:bot,stroke:'#111','stroke-width':1,'stroke-dasharray':'3,2'},g);
  cfg.ticks.forEach(v=>{const l=tx(String(v).replace('-','\u2212'),xs(v),cfg.tly,{'font-size':8,fill:'#4d4d4d','text-anchor':'middle'},g);
    
    });
  t=tx('Normalized Enrichment Score (NES)',cfg.xlx,cfg.tly+12,{'font-size':10,fill:'#111','text-anchor':'middle'},g);
  
  
  t=tx('-log',cfg.legx,cfg.legy,{'font-size':9.5,fill:'#111'},g);
  
  
  const ts=mk('tspan',{'font-size':6.5,dy:3},t); ts.textContent='10';
  const ts2=mk('tspan',{dy:-3},t); ts2.textContent='(padj)';
  const gid='grad-'+cfg.name; const defs=mk('defs',{},g);
  const lg=mk('linearGradient',{id:gid,x1:0,y1:1,x2:0,y2:0},defs);
  for(let k=0;k<=10;k++){const v=cfg.lmin+(cfg.lmax-cfg.lmin)*k/10;mk('stop',{offset:k/10,'stop-color':ramp(cfg.cs,v)},lg);}
  mk('rect',{x:cfg.legx,y:cfg.legy+7,width:17,height:85,fill:'url(#'+gid+')'},g);
  cfg.lticks.forEach(v=>{const y=cfg.legy+92-(v-cfg.lmin)/(cfg.lmax-cfg.lmin)*85;
    mk('line',{x1:cfg.legx,x2:cfg.legx+3,y1:y,y2:y,stroke:'#fff','stroke-width':0.6},g);
    const l=tx(cfg.ldec?v.toFixed(1):String(v),cfg.legx+21,y+3,{'font-size':7.5,fill:'#111'},g);
    
    });
}
pathway({name:'pathways-2hpi',title:'Equine EHV-1 infection Pathways \u2014 2 hpi (padj \u2264 0.05)',tx:438,ty:887,xz:769,kx:40.3,r0:904,step:14.96,labels:f2Labels,nes:f2NES,padj:f2Padj,
  cs:[[4.8,'#04203b'],[6.0,'#0b5581'],[7.0,'#0a8ccb'],[7.6,'#1eafe5']],ticks:[-2,-1,0,1,2,3],lx:666,gx1:895,tly:1057,xlx:783,legx:913,legy:930,lmin:4.8,lmax:7.7,lticks:[5.0,5.5,6.0,6.5,7.0,7.5],ldec:true});
pathway({name:'pathways-6hpi',title:'Equine EHV-1 infection Pathways \u2014 6 hpi (padj \u2264 0.05)',tx:1012,ty:887,xz:1361,kx:38.8,r0:904,step:14.96,labels:f6Labels,nes:f6NES,padj:f6Padj,
  cs:[[6.6,'#04203b'],[7.3,'#0a6494'],[8.3,'#1eafe5']],ticks:[-2,-1,0,1,2],lx:1260,gx1:1465,tly:1057,xlx:1367,legx:1487,legy:930,lmin:6.6,lmax:8.3,lticks:[7.0,7.5,8.0],ldec:true});
pathway({name:'pathways-9hpi',title:'Equine EHV-1 infection Pathways \u2014 9 hpi (padj \u2264 0.05)',tx:438,ty:1099,xz:784,kx:48.4,r0:1116,step:14.96,labels:f9Labels,nes:f9NES,padj:f9Padj,
  cs:[[1.3,'#04203b'],[3.0,'#0b5581'],[4.5,'#0a8ccb'],[5.7,'#1eafe5']],ticks:[-2,-1,0,1,2],lx:680,gx1:895,tly:1270,xlx:790,legx:913,legy:1142,lmin:1.3,lmax:5.7,lticks:[2,3,4,5],ldec:false});
</script>
</body></html>
